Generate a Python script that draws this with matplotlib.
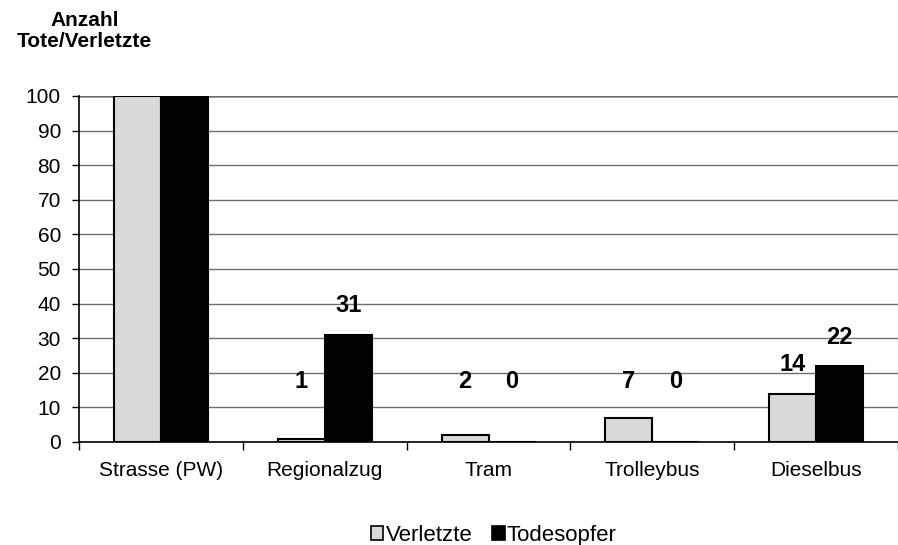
import numpy as np
import matplotlib.pyplot as plt
from matplotlib.patches import Patch

plt.rcParams['font.family'] = ['Liberation Sans', 'DejaVu Sans']

categories = ['Strasse (PW)', 'Regionalzug', 'Tram', 'Trolleybus', 'Dieselbus']
verletzte = [100, 1, 2, 7, 14]
todesopfer = [100, 31, 0, 0, 22]
labels_v = [None, '1', '2', '7', '14']
labels_t = [None, '31', '0', '0', '22']

fig = plt.figure(figsize=(8.98, 5.45), dpi=100)
ax = fig.add_axes([0.088, 0.189, 0.912, 0.635])

x = np.arange(len(categories))
w = 0.287
ax.bar(x - w / 2, verletzte, w, color='#d9d9d9', edgecolor='black', linewidth=1.5, zorder=3)
ax.bar(x + w / 2, todesopfer, w, color='black', edgecolor='black', linewidth=1.5, zorder=3)

# labels sit a bit above the bar, but never below ~14
for i in range(len(categories)):
    if labels_v[i] is not None:
        ax.text(x[i] - w / 2, max(verletzte[i] + 5, 14.2), labels_v[i], ha='center', va='bottom',
                fontsize=17, fontweight='bold')
    if labels_t[i] is not None:
        ax.text(x[i] + w / 2, max(todesopfer[i] + 5, 14.2), labels_t[i], ha='center', va='bottom',
                fontsize=17, fontweight='bold')

ax.set_xlim(-0.5, len(categories) - 0.5)
ax.set_ylim(0, 100)
ax.set_yticks(np.arange(0, 101, 10))
ax.tick_params(axis='y', labelsize=15, length=5, width=1, direction='out', pad=8)
ax.set_xticks(x)
ax.set_xticklabels(categories, fontsize=15)
ax.set_xticks(np.arange(-0.5, len(categories)), minor=True)
ax.tick_params(axis='x', which='major', length=0, pad=14)
ax.tick_params(axis='x', which='minor', length=6, width=1, direction='out')

ax.yaxis.grid(True, color='#707070', linewidth=1, zorder=0)
ax.axhline(100, color='#a0a0a0', linewidth=2, zorder=1)
for s in ['top', 'right']:
    ax.spines[s].set_visible(False)
ax.spines['left'].set_linewidth(1.2)
ax.spines['bottom'].set_linewidth(1.2)

fig.text(0.094, 0.943, 'Anzahl\nTote/Verletzte', ha='center', va='center',
         fontsize=15, fontweight='bold', linespacing=1.15)

handles = [Patch(facecolor='#d9d9d9', edgecolor='black', linewidth=1.2),
           Patch(facecolor='black', edgecolor='black', linewidth=1.2)]
fig.legend(handles, ['Verletzte', 'Todesopfer'], loc='center', bbox_to_anchor=(0.55, 0.018),
           ncol=2, frameon=False, fontsize=16, handlelength=0.55, handleheight=0.55,
           handletextpad=0.1, columnspacing=0.9, borderpad=0, borderaxespad=0)

fig.savefig('out.png', dpi=100)
